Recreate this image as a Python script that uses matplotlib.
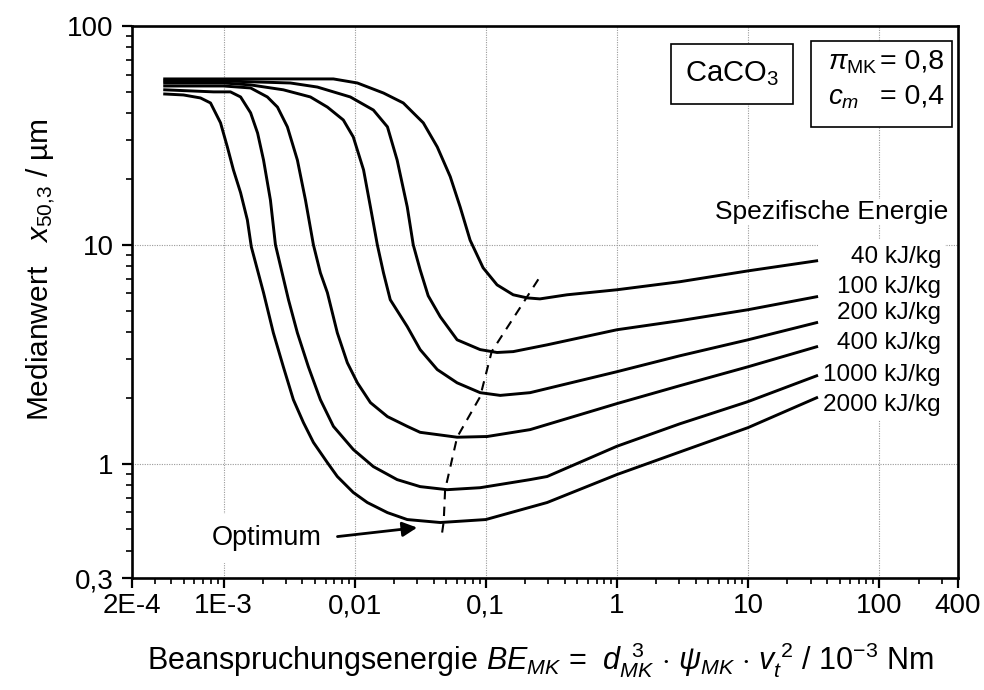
import numpy as np
import matplotlib
matplotlib.use("Agg")
import matplotlib.pyplot as plt
from matplotlib.patches import Rectangle
from matplotlib.ticker import LogLocator, NullFormatter

plt.rcParams['font.family'] = ['Liberation Sans', 'DejaVu Sans']
plt.rcParams['mathtext.fontset'] = 'custom'
plt.rcParams['mathtext.rm'] = 'Liberation Sans'
plt.rcParams['mathtext.it'] = 'Liberation Sans:italic'
plt.rcParams['mathtext.bf'] = 'Liberation Sans:bold'

# specific energy curves, x = stress energy (1e-3 Nm), y = x50,3 (um)
x_40 = [3.56e-4, 1e-3, 3.24e-3, 6.89e-3, 0.0105, 0.0166, 0.0235, 0.0334, 0.0427, 0.0536, 0.0638,
        0.076, 0.0955, 0.122, 0.162, 0.207, 0.259, 0.417, 1.0, 3.02, 10, 33.4]
y_40 = [57.3, 57.3, 57.3, 57.3, 54.9, 49.4, 44.5, 36.1, 28.0, 20.5, 14.9,
        10.5, 7.85, 6.56, 5.91, 5.72, 5.66, 5.91, 6.23, 6.78, 7.60, 8.45]

x_100 = [3.56e-4, 1e-3, 3.24e-3, 5.2e-3, 9.27e-3, 0.0139, 0.0178, 0.0211, 0.0252, 0.028, 0.0316,
         0.0364, 0.045, 0.0605, 0.0906, 0.122, 0.162, 0.294, 1, 3.02, 10, 33.4]
y_100 = [56.1, 56.1, 54.9, 52.6, 47.4, 41.3, 34.6, 24.4, 14.9, 10.0, 7.69,
         5.85, 4.69, 3.68, 3.32, 3.22, 3.25, 3.49, 4.09, 4.50, 5.05, 5.79]

x_200 = [3.56e-4, 1e-3, 1.61e-3, 2.86e-3, 4.6e-3, 6.2e-3, 8.2e-3, 9.77e-3, 0.0117, 0.0132, 0.0149,
         0.0166, 0.0187, 0.0252, 0.0316, 0.0427, 0.0605, 0.0906, 0.129, 0.218, 1, 3.02, 10,
         33.4]
y_200 = [54.9, 54.9, 53.8, 51.1, 47.4, 42.6, 37.2, 31.1, 22.0, 14.9, 10.0,
         7.45, 5.61, 4.23, 3.32, 2.69, 2.34, 2.11, 2.05, 2.11, 2.63, 3.11, 3.68,
         4.41]

x_400 = [3.56e-4, 1e-3, 1.61e-3, 2.16e-3, 2.58e-3, 3.07e-3, 3.66e-3, 4.22e-3, 4.85e-3, 5.48e-3,
         6.2e-3, 7.38e-3, 8.8e-3, 0.0105, 0.0132, 0.0178, 0.0252, 0.0316, 0.0605, 0.1025,
         0.218, 1, 3.02, 10, 33.4]
y_400 = [53.2, 53.2, 52.1, 47.4, 42.6, 34.6, 24.4, 16.0, 10.0, 7.45,
         6.04, 3.96, 2.89, 2.34, 1.90, 1.64, 1.48, 1.39, 1.32, 1.33,
         1.43, 1.88, 2.27, 2.77, 3.42]

x_1000 = [3.56e-4, 8.4e-4, 1.13e-3, 1.35e-3, 1.61e-3, 1.82e-3, 2.02e-3, 2.28e-3, 2.49e-3, 3.13e-3,
          3.66e-3, 4.44e-3, 5.48e-3, 6.89e-3, 9.77e-3, 0.0139, 0.0211, 0.0316, 0.0508, 0.0906,
          0.218, 0.294, 1, 3.02, 10, 33.4]
y_1000 = [51.1, 50.0, 50.0, 47.4, 40.1, 32.4, 24.4, 16.0, 10.0, 5.61,
          3.96, 2.77, 1.96, 1.48, 1.16, 0.969, 0.845, 0.785, 0.760, 0.776,
          0.845, 0.873, 1.20, 1.52, 1.92, 2.52]

x_2000 = [3.56e-4, 4.95e-4, 6.68e-4, 7.96e-4, 9.49e-4, 1.07e-3, 1.19e-3, 1.35e-3, 1.52e-3, 1.63e-3,
          2.02e-3, 2.40e-3, 2.86e-3, 3.41e-3, 4.07e-3, 4.85e-3, 6.2e-3, 7.38e-3, 9.77e-3, 0.0125,
          0.0178, 0.0252, 0.045, 0.1, 0.294, 1, 3.02, 10, 33.4]
y_2000 = [48.9, 48.4, 46.9, 44.5, 36.1, 28.0, 22.0, 17.3, 13.0, 9.79,
          6.04, 3.96, 2.77, 1.96, 1.54, 1.25, 1.01, 0.873, 0.738, 0.664,
          0.597, 0.555, 0.538, 0.555, 0.664, 0.891, 1.13, 1.46, 2.0]

# optimum line through the minima
x_opt = [0.0465, 0.0478, 0.049, 0.0605, 0.0906, 0.111, 0.2, 0.259]
y_opt = [0.484, 0.543, 0.76, 1.32, 2.02, 3.25, 5.61, 7.14]

curve_labels = ['40 kJ/kg', '100 kJ/kg', '200 kJ/kg', '400 kJ/kg', '1000 kJ/kg', '2000 kJ/kg']
xticks = [2e-4, 1e-3, 1e-2, 0.1, 1, 10, 100, 400]
xticklabels = ['2E-4', '1E-3', '0,01', '0,1', '1', '10', '100', '400']
yticks = [0.3, 1, 10, 100]
yticklabels = ['0,3', '1', '10', '100']

fig = plt.figure(figsize=(9.84, 6.9), dpi=100)
ax = fig.add_axes([0.134, 0.1623, 0.8396, 0.8])

curves = [(x_40, y_40), (x_100, y_100), (x_200, y_200),
          (x_400, y_400), (x_1000, y_1000), (x_2000, y_2000)]
for xs, ys in curves:
    ax.plot(xs, ys, color='k', lw=2.1, zorder=4, solid_joinstyle='round')

ax.plot(x_opt, y_opt, color='k', lw=1.5, dashes=(4.5, 3.5), zorder=4)

ax.set_xscale('log')
ax.set_yscale('log')
ax.set_xlim(2e-4, 400)
ax.set_ylim(0.3, 100)

ax.set_xticks(xticks)
ax.set_xticklabels(xticklabels)
ax.set_yticks(yticks)
ax.set_yticklabels(yticklabels)
ax.xaxis.set_minor_locator(LogLocator(base=10, subs=np.arange(2, 10), numticks=20))
ax.yaxis.set_minor_locator(LogLocator(base=10, subs=np.arange(2, 10), numticks=20))
ax.xaxis.set_minor_formatter(NullFormatter())
ax.yaxis.set_minor_formatter(NullFormatter())

ax.tick_params(which='major', direction='out', length=7, width=1.6, labelsize=20)
ax.tick_params(axis='y', which='major', pad=6)
ax.tick_params(axis='x', which='major', pad=4)
ax.tick_params(which='minor', direction='out', length=4, width=1.2)
ax.tick_params(top=False, right=False)
for s in ax.spines.values():
    s.set_linewidth(1.9)

ax.grid(True, which='major', color='#9a9a9a', lw=0.8, ls=(0, (1, 1.2)), zorder=0)
ax.set_axisbelow(True)

# white area behind the curve labels
ax.add_patch(Rectangle((0.8305, 0.286), 0.154, 0.327, transform=ax.transAxes,
                       facecolor='white', edgecolor='none', zorder=1))

ax.text(0.9879, 0.663, 'Spezifische Energie', transform=ax.transAxes, ha='right', va='center',
        fontsize=19, zorder=5, bbox=dict(facecolor='white', edgecolor='none', pad=1))
label_y = [0.5815, 0.5272, 0.4801, 0.4257, 0.3678, 0.3134]
for lab, yy in zip(curve_labels, label_y):
    ax.text(0.9794, yy, lab, transform=ax.transAxes, ha='right', va='center',
            fontsize=17.5, zorder=5)

# CaCO3 box
ax.add_patch(Rectangle((0.6525, 0.8587), 0.1477, 0.1087, transform=ax.transAxes,
                       facecolor='white', edgecolor='k', lw=1.2, zorder=5))
ax.text(0.7264, 0.913, r'CaCO$_{\mathregular{3}}$', transform=ax.transAxes, ha='center',
        va='center', fontsize=21, zorder=6)

# parameter box
ax.add_patch(Rectangle((0.822, 0.817), 0.1707, 0.1558, transform=ax.transAxes,
                       facecolor='white', edgecolor='k', lw=1.2, zorder=5))
ax.text(0.8426, 0.933, r'$\mathit{\pi}_{\mathregular{MK}}$', transform=ax.transAxes,
        ha='left', va='center', fontsize=20, zorder=6)
ax.text(0.9055, 0.935, '= 0,8', transform=ax.transAxes, ha='left', va='center',
        fontsize=20.5, zorder=6)
ax.text(0.8426, 0.8696, r'$c_{m}$', transform=ax.transAxes, ha='left', va='center',
        fontsize=20, zorder=6)
ax.text(0.9055, 0.8716, '= 0,4', transform=ax.transAxes, ha='left', va='center',
        fontsize=20.5, zorder=6)

# Optimum label with arrow
ax.text(8.2e-4, 0.455, 'Optimum', ha='left', va='center', fontsize=19.5, zorder=5,
        bbox=dict(facecolor='white', edgecolor='none', pad=8))
ax.annotate('', xy=(0.030, 0.51), xytext=(7.4e-3, 0.464),
            arrowprops=dict(arrowstyle='-|>', color='k', lw=2, mutation_scale=22,
                            shrinkA=0, shrinkB=0), zorder=5)

fig.text(0.549, 0.043, r'Beanspruchungsenergie $BE_{MK}$ =  $d_{MK}^{\;\;3}$ $\cdot$ '
         r'$\psi_{MK}$ $\cdot$ $v_{t}^{\;2}$ / 10$^{\mathregular{-3}}$ Nm',
         ha='center', va='center', fontsize=22)
fig.text(0.041, 0.61, r'Medianwert   $x_{\mathregular{50{,}3}}$ / µm', rotation=90,
         ha='center', va='center', fontsize=21.5)

fig.savefig('out.png', dpi=100)
